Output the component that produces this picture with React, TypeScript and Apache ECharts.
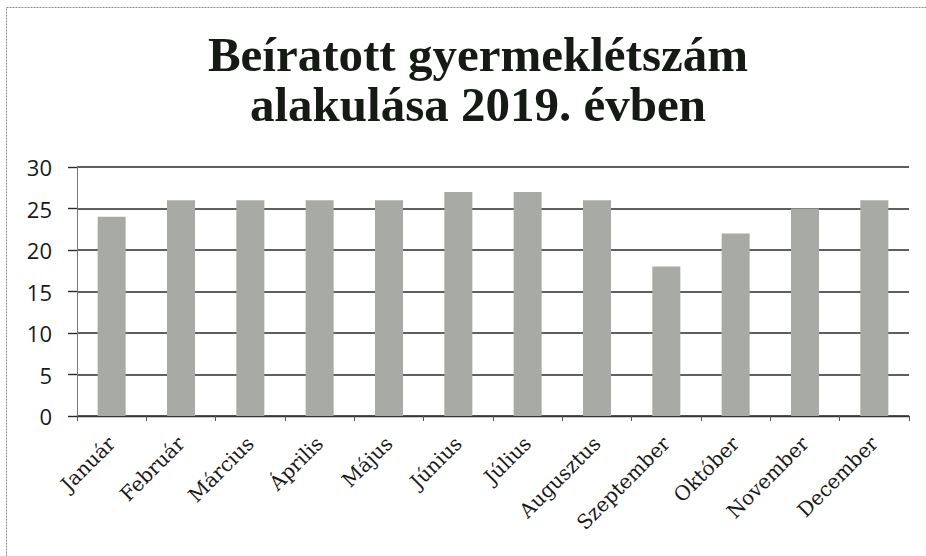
import React, { useEffect, useRef } from "react";
import * as echarts from "echarts";

const titleLines = ["Beíratott gyermeklétszám", "alakulása 2019. évben"];
const months = [
  "Január", "Február", "Március", "Április", "Május", "Június",
  "Július", "Augusztus", "Szeptember", "Október", "November", "December",
];
const enrolled = [24, 26, 26, 26, 26, 27, 27, 26, 18, 22, 25, 26];
const yTicks = { min: 0, max: 30, interval: 5 };

export default function App() {
  const ref = useRef<HTMLDivElement>(null);
  useEffect(() => {
    if (!ref.current) return;
    const chart = echarts.init(ref.current, undefined, { renderer: "svg" });
    chart.setOption({
      animation: false,
      backgroundColor: "#ffffff",
      title: {
        text: titleLines.join("\n"),
        left: 473,
        textAlign: "center",
        top: 24,
        textStyle: {
          fontFamily: "Liberation Serif",
          fontWeight: "bold",
          fontSize: 49,
          lineHeight: 50,
          color: "#151a15",
        },
      },
      graphic: [
        {
          type: "rect",
          shape: { x: 6.5, y: 7.5, width: 940, height: 560 },
          style: { fill: "none", stroke: "#8a8a8a", lineWidth: 1, lineDash: [2, 1] },
          silent: true,
        },
      ],
      grid: { left: 77, right: 17, top: 167, bottom: 140, containLabel: false },
      xAxis: {
        type: "category",
        data: months,
        axisLine: { show: true, lineStyle: { color: "#333", width: 1.3 } },
        axisTick: { show: true, length: 5, alignWithLabel: false, lineStyle: { color: "#555" } },
        axisLabel: {
          rotate: 45,
          fontFamily: "DejaVu Serif",
          fontSize: 20,
          color: "#1a1a1a",
          margin: 24,
          interval: 0,
        },
      },
      yAxis: {
        type: "value",
        min: yTicks.min,
        max: yTicks.max,
        interval: yTicks.interval,
        axisLine: { show: true, lineStyle: { color: "#777", width: 1 } },
        axisTick: { show: true, length: 9, lineStyle: { color: "#2a2a2a", width: 1.4 } },
        splitLine: { show: true, lineStyle: { color: "#2a2a2a", width: 1.5 } },
        axisLabel: {
          fontFamily: "Open Sans",
          fontSize: 22,
          color: "#1a1a1a",
          margin: 25,
        },
      },
      series: [
        {
          type: "bar",
          data: enrolled,
          barWidth: 28,
          itemStyle: { color: "#a8aaa5" },
        },
      ],
    });
    return () => chart.dispose();
  }, []);
  return <div ref={ref} style={{ width: 926, height: 556, position: "absolute", left: 0, top: 0 }} />;
}
